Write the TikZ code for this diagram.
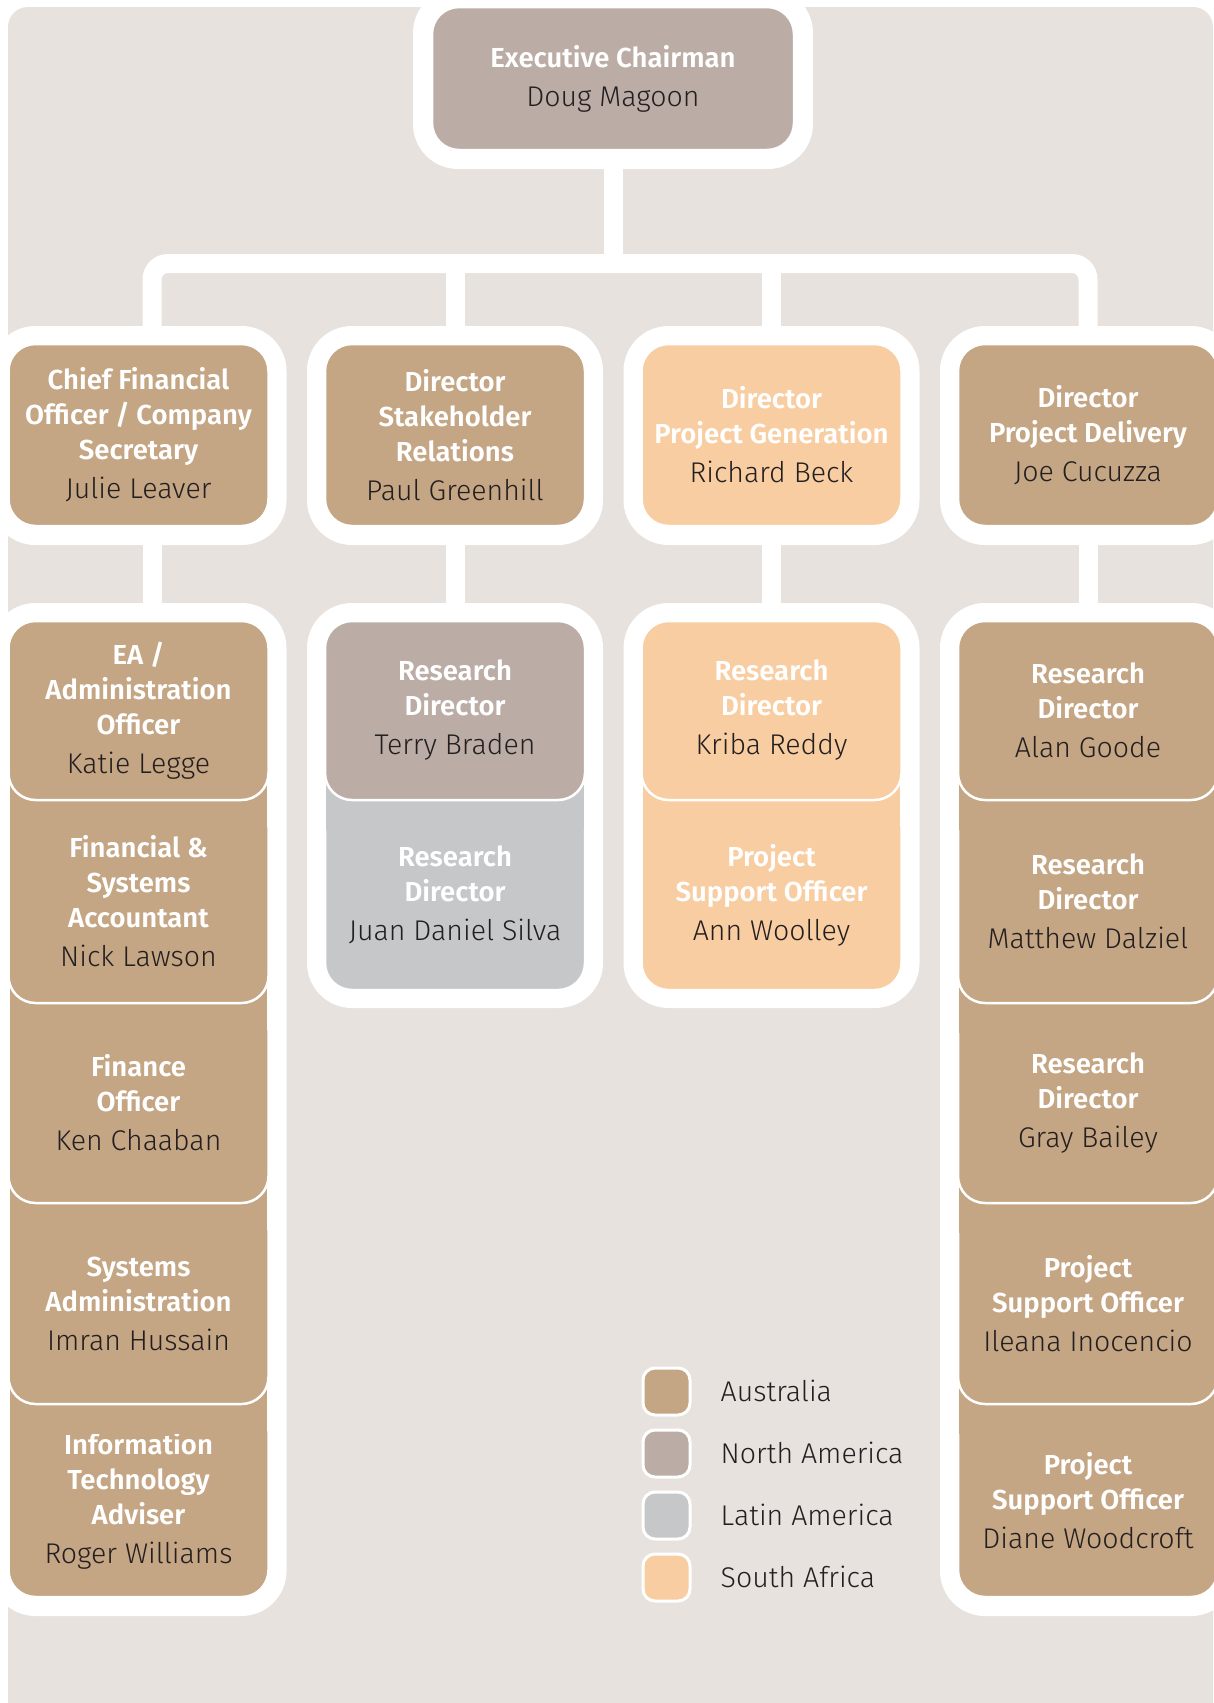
\documentclass[tikz,border=0pt]{standalone}
\usepackage{fontspec}
\usepackage{tikz}
\usetikzlibrary{positioning}
\newfontfamily\titlefont{Fira Sans SemiBold}
\newfontfamily\namefont{Fira Sans Light}
\definecolor{bgcol}{HTML}{E7E2DE}
\definecolor{aus}{HTML}{C4A584}
\definecolor{nam}{HTML}{BBADA5}
\definecolor{lat}{HTML}{C6C7C9}
\definecolor{saf}{HTML}{F8CDA1}
\definecolor{ink}{HTML}{231F20}
\newcommand\nm{\namefont\fontsize{28.5}{35}\selectfont\color{ink}}
% fill behind the rounded top of a lower box
\newcommand\under[2]{\fill[#2] ([xshift=1.25pt,yshift=30pt]#1.north west) rectangle ([xshift=-1.25pt,yshift=-30pt]#1.north east);}

\begin{document}
\begin{tikzpicture}[x=1pt,y=-1pt,
  frame/.style={fill=white,rounded corners=45pt,inner sep=0pt,outer sep=0pt},
  link/.style={white,line width=19pt},
  box/.style={fill=#1,draw=white,line width=2.5pt,rounded corners=27pt,
    minimum width=260pt,inner sep=0pt,outer sep=0pt,align=center,text=white,
    font=\titlefont\fontsize{27.5}{35}\selectfont},
  key/.style={fill=#1,draw=white,line width=3pt,rounded corners=12pt,
    minimum size=47pt,inner sep=0pt},
  keytext/.style={text=ink,font=\namefont\fontsize{28.5}{35}\selectfont,
    inner sep=0pt,text height=20pt,text depth=0pt}]
  \useasboundingbox[fill=white] (0,0) rectangle (1213,1703);
  \fill[bgcol,rounded corners=20pt] (8,7) rectangle (1213,1740);

  % frames
  \node[frame,minimum width=400pt,minimum height=181pt] (fceo) at (613,78.5) {};
  \foreach \n/\x in {fcfo/138.5,fstk/455,fgen/771.5,fdel/1088}
    \node[frame,minimum width=296pt,minimum height=219pt] (\n) at (\x,435.5) {};
  \foreach \n/\x in {gcfo/138.5,gdel/1088}
    \node[frame,minimum width=296pt,minimum height=1013pt] (\n) at (\x,1109.5) {};
  \foreach \n/\x in {gstk/455,ggen/771.5}
    \node[frame,minimum width=296pt,minimum height=405pt] (\n) at (\x,805.5) {};

  % links
  \coordinate (bar) at (613,263.5);
  \coordinate (d1) at ([xshift=13.5pt]fcfo.north);
  \coordinate (d1b) at ([xshift=13.5pt]fcfo.south);
  \draw[link] (fceo.south) -- (fceo.south |- bar);
  \draw[link,rounded corners=16pt] (d1) |- (bar) -| (fdel.north);
  \draw[link] (fstk.north) -- (fstk.north |- bar);
  \draw[link] (fgen.north) -- (fgen.north |- bar);
  \draw[link] (d1b) -- (d1b |- gcfo.north);
  \draw[link] (fstk.south) -- (gstk.north);
  \draw[link] (fgen.south) -- (ggen.north);
  \draw[link] (fdel.south) -- (gdel.north);

  % top and first row
  \node[box=nam,minimum width=362pt,minimum height=143pt] (ceo) at (613,78.5)
    {Executive Chairman\\[4pt]\nm Doug Magoon};
  \node[box=aus,minimum height=182pt] (cfo) at (138.5,435)
    {Chief Financial\\Officer / Company\\Secretary\\[4pt]\nm Julie Leaver};
  \node[box=aus,minimum height=182pt] (stk) at (455,435)
    {Director\\Stakeholder\\Relations\\[4pt]\nm Paul Greenhill};
  \node[box=saf,minimum height=182pt] (gen) at (771.5,435)
    {Director\\Project Generation\\[4pt]\nm Richard Beck};
  \node[box=aus,minimum height=182pt] (del) at (1088,435)
    {Director\\Project Delivery\\[4pt]\nm Joe Cucuzza};

  % column 1
  \node[box=aus,minimum height=193pt] (roger) at (138.5,1500.5)
    {Information\\Technology\\Adviser\\[4pt]\nm Roger Williams};
  \under{roger}{aus}
  \node[box=aus,minimum height=201pt,above=0pt of roger] (imran)
    {Systems\\Administration\\[4pt]\nm Imran Hussain};
  \under{imran}{aus}
  \node[box=aus,minimum height=200pt,above=0pt of imran] (ken)
    {Finance\\Officer\\[4pt]\nm Ken Chaaban};
  \under{ken}{aus}
  \node[box=aus,minimum height=203pt,above=0pt of ken] (nick)
    {Financial \&\\Systems\\Accountant\\[4pt]\nm Nick Lawson};
  \under{nick}{aus}
  \node[box=aus,minimum height=179pt,above=0pt of nick] (katie)
    {EA /\\Administration\\Officer\\[4pt]\nm Katie Legge};

  % column 2
  \node[box=lat,minimum height=190pt] (juan) at (455,895)
    {Research\\Director\\[4pt]\nm Juan Daniel Silva};
  \under{juan}{lat}
  \node[box=nam,minimum height=179pt,above=0pt of juan] (terry)
    {Research\\Director\\[4pt]\nm Terry Braden};

  % column 3
  \node[box=saf,minimum height=190pt] (ann) at (771.5,895)
    {Project\\Support Officer\\[4pt]\nm Ann Woolley};
  \under{ann}{saf}
  \node[box=saf,minimum height=179pt,above=0pt of ann] (kriba)
    {Research\\Director\\[4pt]\nm Kriba Reddy};

  % column 4
  \node[box=aus,minimum height=193pt] (diane) at (1088,1500.5)
    {Project\\Support Officer\\[4pt]\nm Diane Woodcroft};
  \under{diane}{aus}
  \node[box=aus,minimum height=201pt,above=0pt of diane] (ileana)
    {Project\\Support Officer\\[4pt]\nm Ileana Inocencio};
  \under{ileana}{aus}
  \node[box=aus,minimum height=200pt,above=0pt of ileana] (gray)
    {Research\\Director\\[4pt]\nm Gray Bailey};
  \under{gray}{aus}
  \node[box=aus,minimum height=203pt,above=0pt of gray] (matthew)
    {Research\\Director\\[4pt]\nm Matthew Dalziel};
  \under{matthew}{aus}
  \node[box=aus,minimum height=179pt,above=0pt of matthew] (alan)
    {Research\\Director\\[4pt]\nm Alan Goode};

  % legend
  \foreach \c/\t [count=\i] in {aus/Australia,nam/North America,lat/Latin America,saf/South Africa}{
    \node[key=\c] (k\i) at (666.5,{1329.5+62*\i}) {};
    \node[keytext,right=29pt of k\i] (t\i) {\t};
  }
\end{tikzpicture}
\end{document}
